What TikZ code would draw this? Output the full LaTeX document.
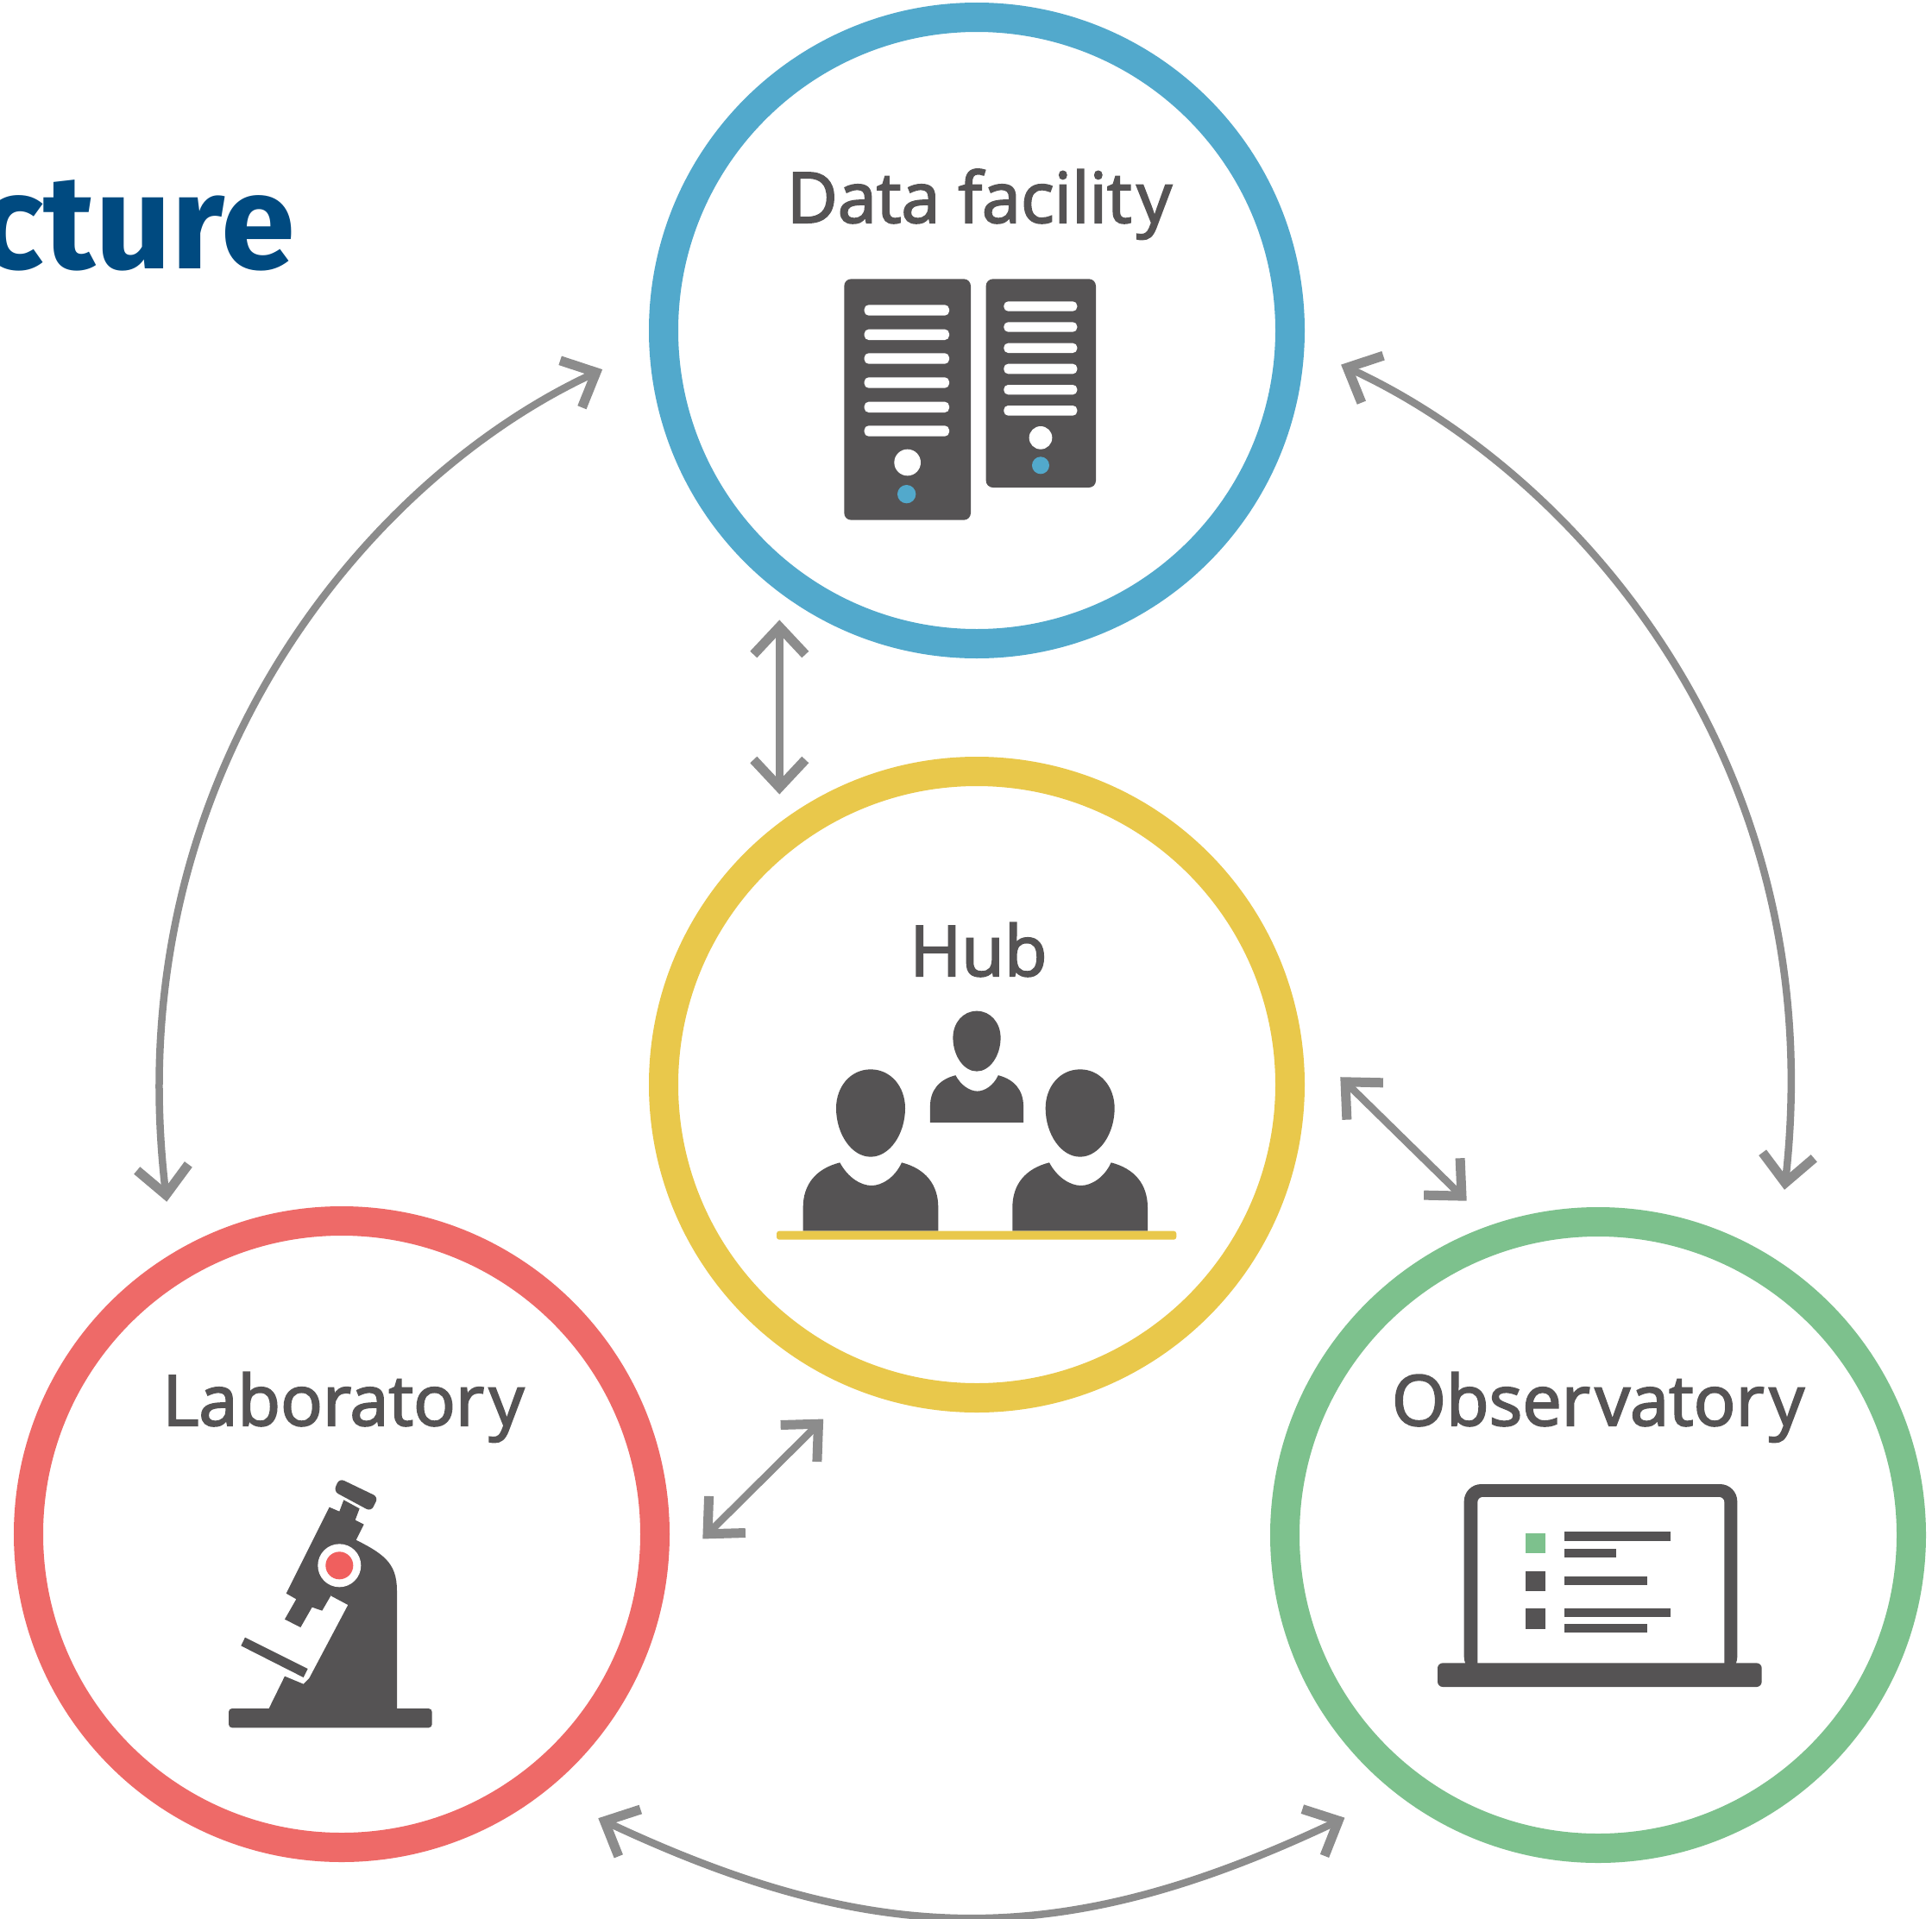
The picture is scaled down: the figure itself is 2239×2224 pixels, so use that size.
\documentclass[tikz,border=0pt]{standalone}
\usepackage{fontspec}
\setmainfont{Open Sans}
\newfontfamily\labelfont[FakeBold=2.5]{Open Sans}
\newfontfamily\titlefont{Fira Sans}
\usetikzlibrary{arrows.meta}
\definecolor{ink}{HTML}{555354}
\definecolor{arrowgray}{HTML}{8C8C8C}
\definecolor{ringblue}{HTML}{52A9CC}
\definecolor{ringyellow}{HTML}{E9C84B}
\definecolor{ringred}{HTML}{EE6A68}
\definecolor{ringgreen}{HTML}{7DC18D}
\definecolor{titleblue}{HTML}{004A80}
\tikzset{
  ring/.style={circle,draw=#1,line width=34pt,minimum size=726pt,inner sep=0pt,fill=none},
  conn/.style={draw=arrowgray,line width=8.5pt,
    {Straight Barb[length=32pt,width=60pt,line width=11pt]}-{Straight Barb[length=32pt,width=60pt,line width=11pt]}},
  lbl/.style={text=ink,font=\labelfont\fontsize{10}{12}\selectfont,inner sep=0pt,anchor=base,scale=8.1,transform shape},
  whitebar/.style={fill=white,draw=none,rounded corners=5pt}
}
\newcommand{\personshape}{%
  \fill[ink] (0,0) .. controls (70,0) and (120,60) .. (120,135) .. controls (120,225) and (66,304) .. (0,304) .. controls (-66,304) and (-120,225) .. (-120,135) .. controls (-120,60) and (-70,0) .. (0,0) -- cycle;
  \fill[ink] (-235,562) -- (-235,480) .. controls (-235,400) and (-190,345) .. (-107,324) .. controls (-80,375) and (-35,404) .. (3,404) .. controls (40,404) and (85,375) .. (108,324) .. controls (190,345) and (235,400) .. (235,480) -- (235,562) -- cycle;
}
\begin{document}
\begin{tikzpicture}[x=1pt,y=-1pt]
\useasboundingbox (0,0) rectangle (2239,2224);
\fill[white] (0,0) rectangle (2239,2224);

% title fragment
\node (title) [anchor=base east,inner sep=0pt,text=titleblue,font=\titlefont\fontsize{10}{12}\selectfont\bfseries,scale=15.5,transform shape] at (345,311) {cture};

% rings
\node (data) [ring=ringblue] at (1132,383) {};
\node (hub) [ring=ringyellow] at (1132,1257) {};
\node (lab) [ring=ringred] at (396,1778) {};
\node (obs) [ring=ringgreen] at (1852,1779) {};

% labels
\node (datalabel) [lbl] at (1135,258) {Data facilit\kern.07em y};
\node (hublabel) [lbl] at (1134,1131) {Hub};
\node (lablabel) [lbl] at (398,1652) {Laborator\kern.07em y};
\node (obslabel) [lbl] at (1852,1652) {Obser\kern.07em vator\kern.07em y};

% connectors
\draw[conn,shorten <=32pt,shorten >=33pt] (data.233.45) -- (hub.127.1);
\draw[conn,shorten <=63pt,shorten >=40pt] (hub.8) -- (obs.109.5);
\draw[conn,shorten <=58pt,shorten >=50pt] (lab.-7.7) -- (hub.248.9);
\draw[conn,shorten <=60pt,shorten >=60pt] (lab.121.5) .. controls (135,900) and (425,555) .. (data.183.6);
\draw[conn,shorten <=47pt,shorten >=82pt] (data.-3.6) .. controls (1827,549) and (2123,884) .. (obs.57.3);
\draw[conn,shorten <=70pt,shorten >=66pt] (lab.-52.5) .. controls (1019,2260) and (1234,2260) .. (obs.232.7);

% server icon
\begin{scope}[shift={(950,300)},scale=1/3]
  \fill[ink,rounded corners=8pt] (85,70) rectangle (525,908);
  \fill[ink,rounded corners=8pt] (578,70) rectangle (960,795);
  \foreach \a/\b in {160/197,245/282,328/365,412/449,497/534,580/617}
    \fill[whitebar] (155,\a) rectangle (450,\b);
  \foreach \a/\b in {148/182,220/254,293/327,365/400,438/472,510/545}
    \fill[whitebar] (640,\a) rectangle (895,\b);
  \fill[white] (305,708) circle[radius=46];
  \fill[ringblue] (302,818) circle[radius=32];
  \fill[white] (768,622) circle[radius=40];
  \fill[ringblue] (768,718) circle[radius=30];
\end{scope}

% people icon
\begin{scope}[shift={(880,1150)},scale=1/3]
  \begin{scope}[shift={(756,65)},scale=0.69]\personshape\end{scope}
  \begin{scope}[shift={(387,268)}]\personshape\end{scope}
  \begin{scope}[shift={(1115,268)}]\personshape\end{scope}
  \fill[ringyellow,rounded corners=3pt] (60,830) rectangle (1450,860);
\end{scope}

% microscope icon
\begin{scope}[shift={(230,1650)},scale=1/3]
  \fill[ink,rounded corners=4pt] (105,990) rectangle (812,1057);
  \fill[ink] (245,990) -- (300,878) -- (365,905) -- (385,885) -- (520,630) -- (460,598) -- (530,395) .. controls (640,450) and (690,480) .. (690,580) -- (690,990) -- cycle;
  \fill[ink] (455,290) -- (490,305) -- (505,265) -- (560,295) -- (545,335) -- (575,350) -- (530,440) -- (460,598) -- (430,650) -- (395,638) -- (355,708) -- (300,680) -- (340,610) -- (305,590) -- cycle;
  \fill[ink,rounded corners=6pt] (490,190) -- (625,255) -- (600,305) -- (470,235) -- cycle;
  \fill[ink] (162,743) -- (380,852) -- (365,882) -- (148,772) -- cycle;
  \fill[white] (490,493) circle[radius=75];
  \fill[ringred!90!red] (490,493) circle[radius=48];
\end{scope}

% laptop icon
\begin{scope}[shift={(1650,1700)},scale=1/3]
  \fill[ink,rounded corners=20pt] (140,60) rectangle (1090,720);
  \fill[white,rounded corners=6pt] (187,105) rectangle (1045,700);
  \fill[ink,rounded corners=6pt] (48,682) rectangle (1175,765);
  \fill[ringgreen] (354,232) rectangle (424,300);
  \fill[ink] (354,363) rectangle (424,431);
  \fill[ink] (354,493) rectangle (424,563);
  \fill[ink] (488,226) rectangle (857,257);
  \fill[ink] (488,286) rectangle (668,316);
  \fill[ink] (488,380) rectangle (776,411);
  \fill[ink] (488,492) rectangle (857,523);
  \fill[ink] (488,547) rectangle (778,577);
\end{scope}
\end{tikzpicture}
\end{document}
